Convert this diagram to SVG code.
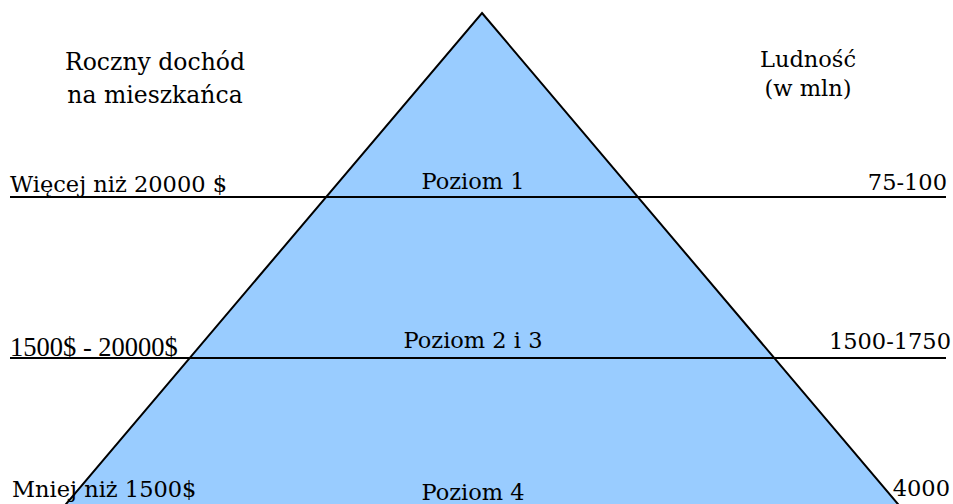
<svg xmlns="http://www.w3.org/2000/svg" width="953" height="504" viewBox="0 0 953 504">
<style>
.t{font-family:"DejaVu Serif","Liberation Serif",serif;font-size:22.5px;fill:#000}
.tn{font-family:"Liberation Serif",serif;font-size:26.5px;fill:#000}
.ln{stroke:#000;stroke-width:2;fill:none}
</style>
<rect width="953" height="504" fill="#fff"/>
<g id="pyramid">
<polygon points="482,13 903,510 61,510" fill="#99CCFF" stroke="#000" stroke-width="2"/>
</g>
<g id="connectors">
<line class="ln" x1="10" y1="197" x2="946" y2="197"/>
<line class="ln" x1="10" y1="358" x2="946" y2="358"/>
</g>
<g id="header-left"><text class="t" x="155" y="70" text-anchor="middle" style="font-size:23.5px">Roczny dochód</text><text class="t" x="155" y="103" text-anchor="middle" style="font-size:23.5px">na mieszkańca</text></g>
<g id="header-right"><text class="t" x="808" y="67" text-anchor="middle">Ludność</text><text class="t" x="808" y="96" text-anchor="middle">(w mln)</text></g>
<g id="row1"><text class="t" x="10" y="192">Więcej niż 20000 $</text><text class="t" x="473" y="189" text-anchor="middle">Poziom 1</text><text class="t" x="947" y="190" text-anchor="end">75-100</text></g>
<g id="row2"><text class="tn" x="10" y="356">1500$ - 20000$</text><text class="t" x="473" y="348" text-anchor="middle">Poziom 2 i 3</text><text class="t" x="951" y="349" text-anchor="end">1500-1750</text></g>
<g id="row3"><text class="t" x="12" y="497">Mniej niż 1500$</text><text class="t" x="473" y="500" text-anchor="middle">Poziom 4</text><text class="t" x="950" y="496" text-anchor="end">4000</text></g>
</svg>
